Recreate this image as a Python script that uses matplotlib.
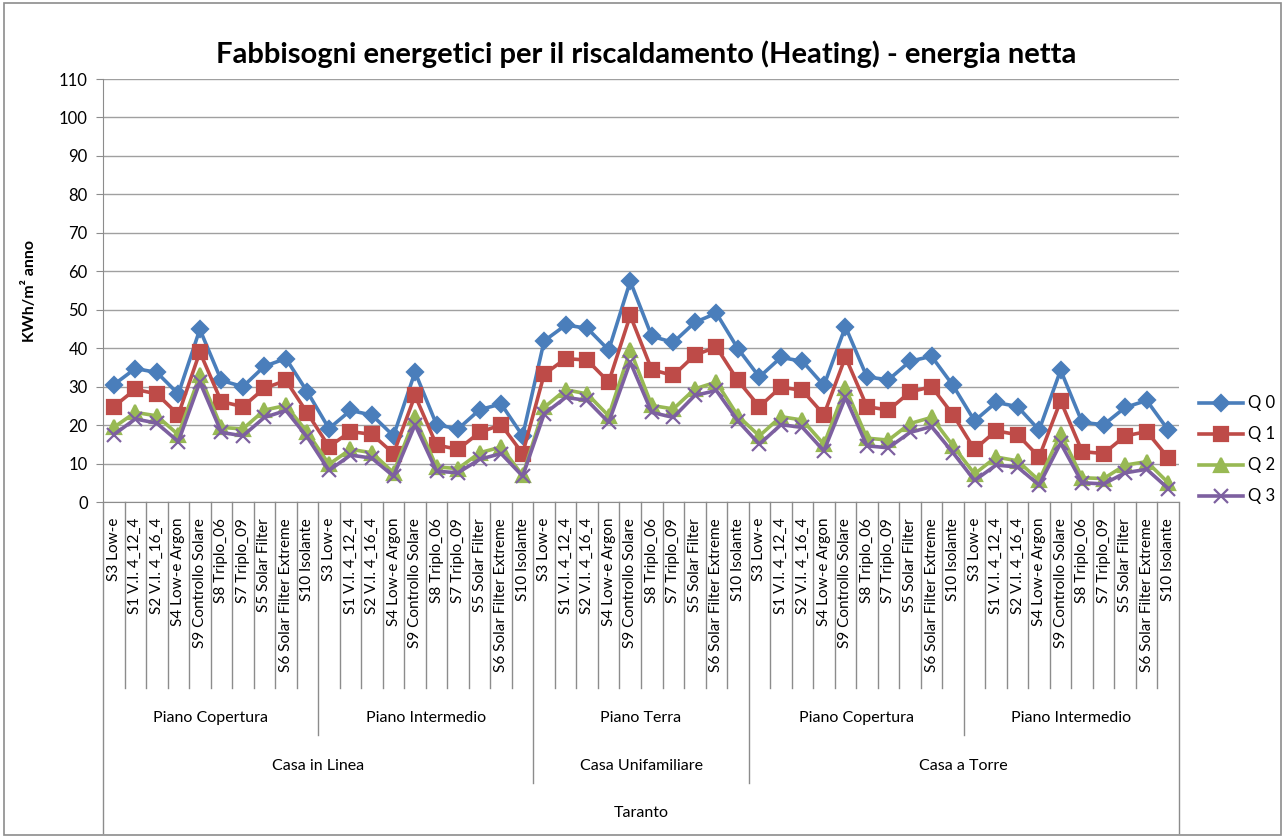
import matplotlib.pyplot as plt
from matplotlib.patches import Rectangle
from matplotlib.transforms import blended_transform_factory

plt.rcParams['font.family'] = ['Lato', 'DejaVu Sans']

windows = ["S3 Low-e", "S1 V.I. 4_12_4", "S2 V.I. 4_16_4", "S4 Low-e Argon",
           "S9 Controllo Solare", "S8 Triplo_06", "S7 Triplo_09", "S5 Solar Filter",
           "S6 Solar Filter Extreme", "S10 Isolante"]
floors = ["Piano Copertura", "Piano Intermedio", "Piano Terra",
          "Piano Copertura", "Piano Intermedio"]
houses = ["Casa in Linea", "Casa Unifamiliare", "Casa a Torre"]
house_floors = [2, 1, 2]   # how many floor groups per house type
city = "Taranto"

q0 = [30.5, 34.7, 33.7, 28.1, 44.9, 31.6, 30.0, 35.3, 37.3, 28.6,
      19.1, 23.8, 22.6, 17.2, 33.8, 20.1, 19.0, 24.0, 25.5, 17.2,
      41.9, 46.0, 45.2, 39.5, 57.4, 43.1, 41.5, 46.7, 49.1, 39.9,
      32.5, 37.6, 36.6, 30.3, 45.6, 32.5, 31.8, 36.6, 37.9, 30.3,
      21.1, 25.9, 24.8, 18.7, 34.3, 20.7, 20.1, 24.6, 26.4, 18.7]
q1 = [24.8, 29.3, 28.1, 22.7, 39.0, 26.1, 24.8, 29.6, 31.6, 23.1,
      14.4, 18.3, 17.6, 12.6, 27.7, 14.8, 13.7, 18.1, 20.1, 12.6,
      33.2, 37.3, 36.9, 31.2, 48.5, 34.4, 32.9, 38.2, 40.3, 31.6,
      24.8, 29.9, 29.0, 22.7, 37.7, 24.8, 23.9, 28.6, 30.0, 22.7,
      13.7, 18.5, 17.5, 11.7, 26.3, 13.1, 12.6, 17.2, 18.3, 11.5]
q2 = [19.4, 23.3, 22.4, 17.5, 32.9, 19.4, 19.0, 23.9, 25.1, 18.1,
      9.8, 13.7, 12.8, 7.6, 22.0, 9.1, 8.7, 12.8, 14.3, 6.9,
      24.6, 29.2, 28.1, 22.4, 39.5, 25.1, 24.2, 29.4, 31.2, 22.4,
      17.2, 22.2, 21.3, 15.0, 29.7, 16.6, 16.1, 20.4, 22.0, 14.6,
      7.3, 11.7, 10.7, 5.6, 17.8, 6.3, 6.1, 9.6, 10.5, 5.0]
q3 = [17.5, 21.6, 20.5, 15.7, 31.2, 18.1, 17.2, 22.0, 23.8, 16.8,
      8.2, 12.2, 11.4, 6.7, 20.1, 8.0, 7.6, 11.1, 12.6, 6.7,
      22.9, 27.2, 26.4, 20.7, 36.4, 23.3, 22.0, 27.7, 29.0, 21.1,
      15.0, 20.1, 19.4, 13.3, 27.2, 14.6, 14.1, 18.1, 19.6, 12.8,
      5.6, 9.6, 9.1, 4.4, 15.3, 5.0, 4.7, 7.6, 8.5, 3.5]

series = [("Q 0", q0, "#4A7EBB", "D", 8.5),
          ("Q 1", q1, "#BE4B48", "s", 10),
          ("Q 2", q2, "#98B954", "^", 10),
          ("Q 3", q3, "#7D60A0", "x", 10)]

fig = plt.figure(figsize=(12.85, 8.38), dpi=100)
ax = fig.add_axes([103 / 1285, 1 - 502 / 838, 1076 / 1285, 423 / 838])

labels = windows * len(floors)
x = list(range(len(labels)))
for name, vals, col, mk, ms in series:
    ax.plot(x, vals, color=col, lw=2.6, marker=mk, ms=ms, mew=1.6,
            mec=col, mfc=col, label=name, zorder=3)

ax.set_xlim(-0.5, len(labels) - 0.5)
ax.set_ylim(0, 110)
ax.set_yticks(range(0, 111, 10))
ax.grid(axis='y', color='#A0A0A0', lw=1)
ax.set_axisbelow(True)
for s in ['top', 'right']:
    ax.spines[s].set_visible(False)
for s in ['left', 'bottom']:
    ax.spines[s].set_color('#8C8C8C')
ax.tick_params(axis='y', length=5, color='#8C8C8C', labelsize=12, pad=6)
ax.set_xticks([])
ax.set_ylabel("KWh/m² anno", fontsize=11.5, fontweight='bold', labelpad=16)

tr = blended_transform_factory(ax.transData, ax.transAxes)
px = 1 / 423  # one pixel in axes height
sep_kw = dict(color='#8C8C8C', lw=1, transform=tr, clip_on=False)

# category labels
for i, lab in enumerate(labels):
    ax.text(i, -16 * px, lab, rotation=90, ha='center', va='top',
            fontsize=11, transform=tr)

# separators
n_cat = len(windows)
house_start = [0]
for n in house_floors:
    house_start.append(house_start[-1] + n)
for k in range(len(labels) + 1):
    if k == 0 or k == len(labels):
        y_end = -331 * px
    elif k % n_cat == 0 and (k // n_cat) in house_start:
        y_end = -281 * px
    elif k % n_cat == 0:
        y_end = -233 * px
    else:
        y_end = -186 * px
    ax.plot([k - 0.5, k - 0.5], [0, y_end], **sep_kw)

# floor labels
for g, fl in enumerate(floors):
    ax.text(g * n_cat + (n_cat - 1) / 2, -216 * px, fl, ha='center',
            va='center', fontsize=11.5, transform=tr)
# house labels
for h, name in enumerate(houses):
    a = house_start[h] * n_cat
    b = house_start[h + 1] * n_cat - 1
    ax.text((a + b) / 2, -264 * px, name, ha='center', va='center',
            fontsize=11.5, transform=tr)
ax.text((len(labels) - 1) / 2, -311 * px, city, ha='center', va='center',
        fontsize=11.5, transform=tr)

ax.legend(loc='center left', bbox_to_anchor=(1.005, 0.123), frameon=False,
          fontsize=12, handlelength=2.6, labelspacing=0.9, handletextpad=0.3)

fig.suptitle("Fabbisogni energetici per il riscaldamento (Heating) - energia netta",
             x=0.503, y=0.952, fontsize=21, fontweight='bold')

fig.patches.append(Rectangle((0.003, 0.003), 0.994, 0.994, transform=fig.transFigure,
                             fill=False, ec='#8C8C8C', lw=1.2))

fig.savefig("out.png", dpi=100)
